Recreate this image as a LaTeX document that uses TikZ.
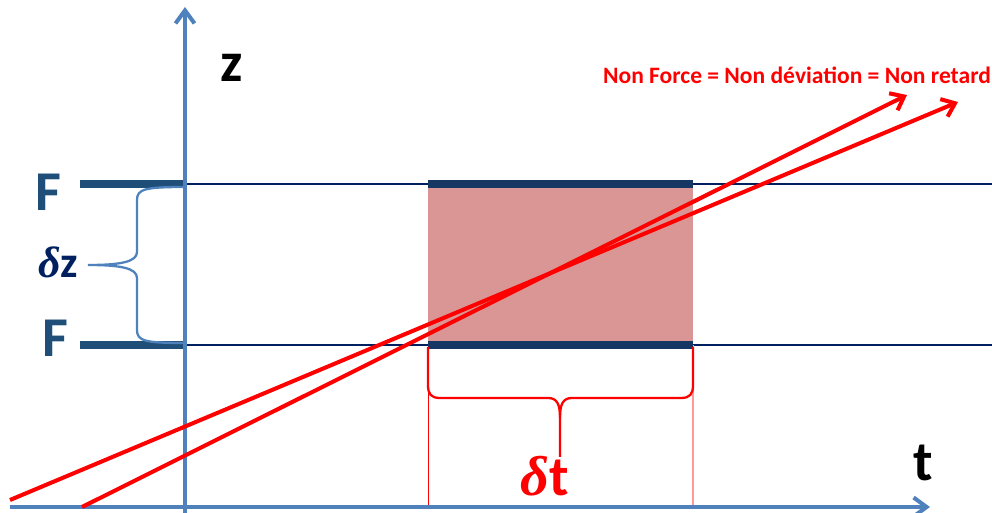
\documentclass[tikz,border=0pt]{standalone}
\usepackage{fontspec}
\setmainfont{Carlito}
\newfontfamily\deltafont{Liberation Serif}
\usetikzlibrary{arrows.meta}
\definecolor{axisblue}{RGB}{79,129,189}
\definecolor{forceblue}{RGB}{31,78,121}
\definecolor{levelnavy}{RGB}{0,32,96}
\definecolor{bandnavy}{RGB}{22,54,100}
\definecolor{zonefill}{RGB}{217,150,148}

\begin{document}
\begin{tikzpicture}[x=0.02cm, y=-0.02cm,
    axis/.style={axisblue, line width=2.3pt, -{Straight Barb[length=0.26cm, width=0.38cm]}},
    ray/.style={red, line width=2.3pt, -{Straight Barb[length=0.24cm, width=0.38cm]}},
    bigbold/.style={font=\fontsize{32}{36}\selectfont\bfseries},
  ]
  \useasboundingbox (0,0) rectangle (992,513);

  % zone between the two force levels
  \fill[zonefill] (428,184) rectangle (693,345);
  \draw[levelnavy, line width=1.1pt] (185,184) -- (992,184);
  \draw[levelnavy, line width=1.1pt] (185,345) -- (992,345);
  \draw[red, line width=0.5pt] (428,345) -- (428,507);
  \draw[red!40, line width=0.6pt] (693,345) -- (693,507);
  \draw[bandnavy, line width=4.8pt] (428,184) -- (693,184);
  \draw[bandnavy, line width=4.8pt] (428,345) -- (693,345);
  \draw[forceblue, line width=4.5pt] (80,184) -- (185,184);
  \draw[forceblue, line width=4.5pt] (80,345) -- (185,345);

  % axes
  \coordinate (zfoot) at (185,513);
  \coordinate (ztip) at (185,7);
  \coordinate (tfoot) at (10,507);
  \coordinate (ttip) at (930,507);
  \draw[axis] (zfoot) -- (ztip);
  \draw[axis] (tfoot) -- (ttip);

  % braces
  \draw[axisblue, line width=1.3pt] (185,187) .. controls (145,187) and (137,189) .. (137,200)
    -- (137,252) .. controls (137,262) and (120,265) .. (88,265)
    .. controls (120,265) and (137,268) .. (137,278)
    -- (137,330) .. controls (137,341) and (145,343) .. (185,343);
  \draw[red, line width=1.3pt] (428,347) -- (428,385) .. controls (428,394) and (431,398) .. (440,398)
    -- (548,398) .. controls (557,398) and (560,404) .. (560,418) -- (560,457);
  \draw[red, line width=1.3pt] (693,347) -- (693,385) .. controls (693,394) and (690,398) .. (681,398)
    -- (572,398) .. controls (563,398) and (560,404) .. (560,418);

  % rays
  \coordinate (rayAstart) at (10,500);
  \coordinate (rayAend) at (958,102);
  \coordinate (rayBstart) at (82,507);
  \coordinate (rayBend) at (907,95);
  \draw[ray] (rayAstart) -- (rayAend);
  \draw[ray] (rayBstart) -- (rayBend);

  % labels
  \node[bigbold] (zlabel) at (232,68) {z};
  \node[bigbold] (tlabel) at (923,463) {t};
  \node[bigbold, forceblue] (ftop) at (48,192) {F};
  \node[bigbold, forceblue] (fbot) at (55,338) {F};
  \node[levelnavy, font=\fontsize{25}{28}\selectfont\bfseries] (dz) at (58,262) {{\deltafont\itshape δ}z};
  \node[red, bigbold] (dt) at (545,476) {{\deltafont\itshape δ}t};
  \node[red, font=\fontsize{13.4}{15}\selectfont\bfseries] (nonforce) at (797,75) {Non Force = Non déviation = Non retard};
\end{tikzpicture}
\end{document}
